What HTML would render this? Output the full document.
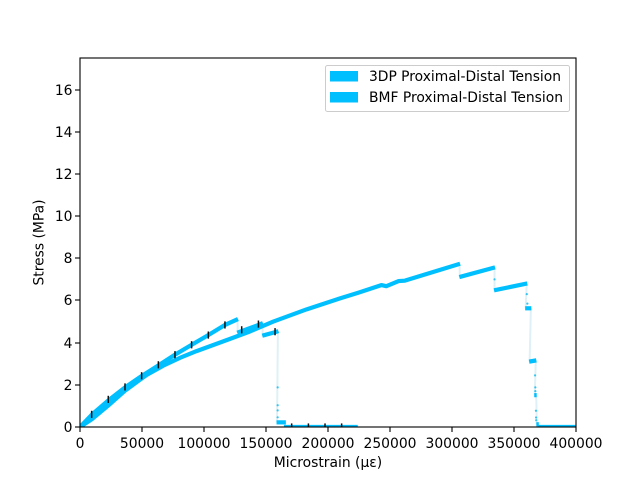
<!DOCTYPE html>
<html>
<head>
<meta charset="utf-8">
<title>Stress vs Microstrain</title>
<style>
html,body{margin:0;padding:0;background:#fff;}
svg{display:block;font-family:"DejaVu Sans","Liberation Sans",sans-serif;}
text{fill:#000;}
</style>
</head>
<body>
<svg id="chart" xmlns="http://www.w3.org/2000/svg" width="640" height="480" viewBox="0 0 640 480">
  <defs><clipPath id="plot-clip"><rect x="80" y="58" width="496" height="369"></rect></clipPath></defs>
  <rect x="80" y="58" width="496" height="369" fill="#fff"></rect>
  <g id="connectors" clip-path="url(#plot-clip)"></g>
  <g id="runs" clip-path="url(#plot-clip)"></g>
  <g id="dots" clip-path="url(#plot-clip)"></g>
  <g id="errors" clip-path="url(#plot-clip)"></g>
  <g id="axes"></g>
  <text x="328" y="467" font-size="13.89" text-anchor="middle">Microstrain (με)</text>
  <text transform="translate(43.5,242.5) rotate(-90)" font-size="13.89" text-anchor="middle">Stress (MPa)</text>
  <g>
    <rect x="325.5" y="65.5" width="244" height="46" rx="2" fill="#fff" fill-opacity="0.8" stroke="#ccc" stroke-width="1"></rect>
    <rect x="330" y="71" width="28" height="10.5" fill="#00bfff"></rect>
    <text x="369" y="81" font-size="13.89" textLength="192" lengthAdjust="spacingAndGlyphs">3DP Proximal-Distal Tension</text>
    <rect x="330" y="92" width="28" height="10.5" fill="#00bfff"></rect>
    <text x="369" y="102" font-size="13.89" textLength="194" lengthAdjust="spacingAndGlyphs">BMF Proximal-Distal Tension</text>
  </g>
</svg>
<script>
const xTicks = [0, 50000, 100000, 150000, 200000, 250000, 300000, 350000, 400000];
const yTicks = [0, 2, 4, 6, 8, 10, 12, 14, 16];

const upperRun1Strain = [0, 9400, 22800, 36300, 49700, 63200, 76600, 90000, 103500, 116900, 127400];
const upperRun1Stress = [0, 0.58, 1.26, 1.88, 2.42, 2.92, 3.43, 3.90, 4.36, 4.84, 5.12];
const upperRun2Strain = [126800, 130400, 143900, 147500];
const upperRun2Stress = [4.47, 4.55, 4.84, 4.93];
const upperRun3Strain = [147000, 157500, 160000];
const upperRun3Stress = [4.33, 4.50, 4.55];
const upperRun4Strain = [158500, 166000];
const upperRun4Stress = [0.22, 0.22];
const upperRun5Strain = [164500, 224000];
const upperRun5Stress = [0, 0];

const lowerRun1Strain = [0, 9400, 22800, 36300, 49700, 53800, 67200, 80600, 94000, 107500, 121000, 137000, 155900, 182800, 209700, 225000, 243000, 247000, 257000, 262000, 306500];
const lowerRun1Stress = [0, 0.36, 1.02, 1.72, 2.30, 2.47, 2.91, 3.28, 3.60, 3.89, 4.18, 4.53, 5.00, 5.58, 6.10, 6.38, 6.73, 6.68, 6.92, 6.94, 7.74];
const lowerRun2Strain = [305900, 334700];
const lowerRun2Stress = [7.11, 7.57];
const lowerRun3Strain = [333900, 360700];
const lowerRun3Stress = [6.48, 6.81];
const lowerRun4Strain = [359000, 364000];
const lowerRun4Stress = [5.63, 5.63];
const lowerRun5Strain = [362200, 368000];
const lowerRun5Stress = [3.10, 3.16];
const lowerRun6Strain = [366300, 368300];
const lowerRun6Stress = [1.51, 1.51];
const lowerRun7Strain = [368000, 370000];
const lowerRun7Stress = [0.13, 0.13];
const lowerRun8Strain = [369500, 400000];
const lowerRun8Stress = [0, 0];

const dotStrain = [159400, 159400, 159400, 159400, 334300, 360300, 360800, 367000, 367200, 367200, 367700, 367800, 367900];
const dotStress = [1.88, 1.03, 0.79, 0.46, 7.00, 6.30, 5.85, 2.45, 1.88, 1.70, 0.77, 0.45, 0.32];

const errorStrain = [9400, 22800, 36300, 49700, 63200, 76600, 90000, 103500, 116900, 130400, 143900, 157300, 170700, 184200, 197600, 211000];
const errorStress = [0.60, 1.31, 1.90, 2.43, 2.95, 3.43, 3.90, 4.36, 4.84, 4.61, 4.88, 4.52, 0, 0, 0, 0];
const errorSize = [0.17, 0.17, 0.17, 0.17, 0.17, 0.17, 0.17, 0.17, 0.17, 0.17, 0.17, 0.17, 0.17, 0.17, 0.17, 0.17];

const upperRuns = [
  [upperRun1Strain, upperRun1Stress],
  [upperRun2Strain, upperRun2Stress],
  [upperRun3Strain, upperRun3Stress],
  [upperRun4Strain, upperRun4Stress],
  [upperRun5Strain, upperRun5Stress]
];
const lowerRuns = [
  [lowerRun1Strain, lowerRun1Stress],
  [lowerRun2Strain, lowerRun2Stress],
  [lowerRun3Strain, lowerRun3Stress],
  [lowerRun4Strain, lowerRun4Stress],
  [lowerRun5Strain, lowerRun5Stress],
  [lowerRun6Strain, lowerRun6Stress],
  [lowerRun7Strain, lowerRun7Stress],
  [lowerRun8Strain, lowerRun8Stress]
];

const NS = 'http://www.w3.org/2000/svg';
const plotLeft = 80, plotRight = 576, plotTop = 58, plotBottom = 427;
const xMax = 400000, yMax = 17.5;
function xScale(v) { return plotLeft + (v / xMax) * (plotRight - plotLeft); }
function yScale(v) { return plotBottom - (v / yMax) * (plotBottom - plotTop); }

function make(tag, attrs, parent) {
  const el = document.createElementNS(NS, tag);
  for (const k in attrs) el.setAttribute(k, attrs[k]);
  parent.appendChild(el);
  return el;
}

const connectorsG = document.getElementById('connectors');
const runsG = document.getElementById('runs');
const dotsG = document.getElementById('dots');
const errorsG = document.getElementById('errors');
const axesG = document.getElementById('axes');

function drawSeries(runs, label) {
  runs.forEach(function (run, i) {
    const xs = run[0], ys = run[1];
    if (i < runs.length - 1) {
      const next = runs[i + 1];
      const connector = make('line', {
        x1: xScale(xs[xs.length - 1] - 400), y1: yScale(ys[ys.length - 1]),
        x2: xScale(next[0][0] + 400), y2: yScale(next[1][0]),
        stroke: '#dff1f6', 'stroke-width': 2
      }, connectorsG);
      
      
    }
    const pts = xs.map(function (x, j) { return xScale(x).toFixed(2) + ',' + yScale(ys[j]).toFixed(2); }).join(' ');
    const line = make('polyline', {
      points: pts, fill: 'none', stroke: '#00bfff',
      'stroke-width': 4.2, 'stroke-linejoin': 'round'
    }, runsG);
    
    
  });
}
drawSeries(upperRuns, 'upper-series');
drawSeries(lowerRuns, 'lower-series');

dotStrain.forEach(function (x, i) {
  const dot = make('circle', { cx: xScale(x), cy: yScale(dotStress[i]), r: 1.1, fill: '#33c4f2' }, dotsG);
  
  
});

errorStrain.forEach(function (x, i) {
  const bar = make('line', {
    x1: xScale(x), x2: xScale(x),
    y1: yScale(errorStress[i] - errorSize[i]), y2: yScale(errorStress[i] + errorSize[i]),
    stroke: '#111', 'stroke-width': 1.5
  }, errorsG);
  
  
});

xTicks.forEach(function (v) {
  const px = Math.round(xScale(v));
  const t = make('line', { x1: px, x2: px, y1: plotBottom, y2: plotBottom + 5, stroke: '#000', 'stroke-width': 1.1 }, axesG);
  
  
  const l = make('text', { x: xScale(v), y: 448, 'font-size': 13.89, 'text-anchor': 'middle' }, axesG);
  l.textContent = String(v);
  
  
});
yTicks.forEach(function (v) {
  const py = Math.round(yScale(v));
  const t = make('line', { x1: plotLeft - 5, x2: plotLeft, y1: py, y2: py, stroke: '#000', 'stroke-width': 1.1 }, axesG);
  
  
  const l = make('text', { x: 72.5, y: py + 5, 'font-size': 13.89, 'text-anchor': 'end' }, axesG);
  l.textContent = String(v);
  
  
});

const frame = make('rect', {
  x: plotLeft, y: plotTop, width: plotRight - plotLeft, height: plotBottom - plotTop,
  fill: 'none', stroke: '#000', 'stroke-width': 1.1
}, axesG);


</script>
</body>
</html>
